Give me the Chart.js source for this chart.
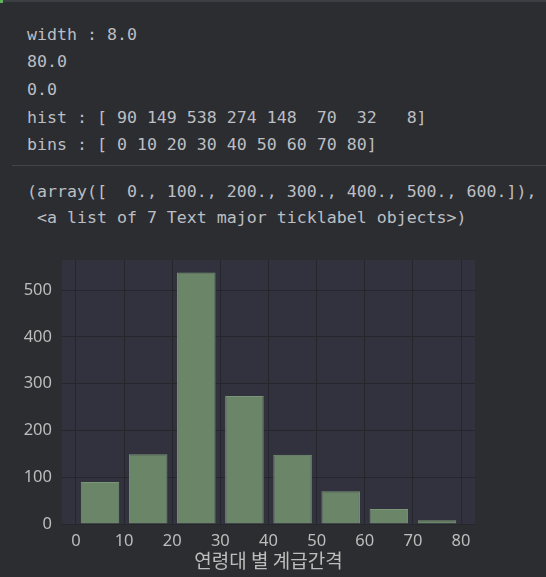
<!DOCTYPE html>
<html>
<head>
<meta charset="utf-8">
<script src="https://cdn.jsdelivr.net/npm/chart.js@4"></script>
<style>
  html, body { margin:0; padding:0; background:#2b2d30; width:546px; height:577px; overflow:hidden; }
  .topbar { position:absolute; left:0; top:0; width:546px; height:2px; background:#3c3e44; }
  .topmark { position:absolute; left:0; top:0; width:3px; height:3px; background:#5fb35a; }
  .ln { position:absolute; left:27px; font-family:"DejaVu Sans Mono", monospace; font-size:16.6px; line-height:20px; color:#bcbec4; white-space:pre; }
  .sep { position:absolute; left:12px; top:165px; width:534px; height:1px; background:#43454a; }
  #wrap { position:absolute; left:0; top:240px; width:546px; height:337px; }
</style>
</head>
<body>
<div class="topbar"></div><div class="topmark"></div>
<div id="out1"></div>
<div class="sep"></div>
<div id="out2"></div>
<div id="wrap"><canvas id="c" width="546" height="337"></canvas></div>
<script>
// ---- data ----
const widthValue = 8.0;
const maxValue = 80.0;
const minValue = 0.0;
const bins = [0, 10, 20, 30, 40, 50, 60, 70, 80];
const hist = [90, 149, 538, 274, 148, 70, 32, 8];
const yTicks = [0, 100, 200, 300, 400, 500, 600];
const xTicks = [0, 10, 20, 30, 40, 50, 60, 70, 80];
const xLabel = '연령대 별 계급간격';

// ---- printed output ----
function fmtArr(a, w) { return '[' + a.map(v => String(v).padStart(w)).join(' ') + ']'; }
const out1Lines = [
  'width : ' + widthValue.toFixed(1),
  maxValue.toFixed(1),
  minValue.toFixed(1),
  'hist : ' + fmtArr(hist, 3),
  'bins : ' + fmtArr(bins, 2)
];
const out2Lines = [
  '(array([' + yTicks.map(v => (v + '.').padStart(4)).join(', ') + ']),',
  ' <a list of ' + yTicks.length + ' Text major ticklabel objects>)'
];
const out1Tops = [25, 52, 80, 108, 135];
const out2Tops = [182, 208];
out1Lines.forEach((t, i) => { const d = document.createElement('div'); d.className = 'ln'; d.style.top = out1Tops[i] + 'px'; d.textContent = t; document.getElementById('out1').appendChild(d); });
out2Lines.forEach((t, i) => { const d = document.createElement('div'); d.className = 'ln'; d.style.top = out2Tops[i] + 'px'; d.textContent = t; document.getElementById('out2').appendChild(d); });

// ---- chart ----
const points = hist.map((v, i) => ({ x: bins[i] + (bins[i + 1] - bins[i]) / 2, y: v }));
const binStep = bins[1] - bins[0];

const plotBg = {
  id: 'plotBg',
  beforeDraw(chart) {
    const { ctx, chartArea: { left, top, width, height } } = chart;
    ctx.save();
    ctx.fillStyle = '#31323d';
    ctx.fillRect(left, top, width, height);
    ctx.restore();
  }
};

const tickColor = '#bdbdbd';
const gridColor = '#26272d';

new Chart(document.getElementById('c'), {
  type: 'bar',
  data: {
    datasets: [{
      data: points,
      backgroundColor: '#6b8569',
      borderColor: '#7a9677',
      borderWidth: 1,
      barPercentage: widthValue / binStep,
      categoryPercentage: 1.0
    }]
  },
  options: {
    responsive: false,
    animation: false,
    events: [],
    layout: { padding: { top: 17, right: 71, left: 0, bottom: 0 } },
    plugins: { legend: { display: false }, tooltip: { enabled: false } },
    scales: {
      x: {
        type: 'linear',
        min: -2.9,
        max: 82.9,
        offset: false,
        grid: { color: gridColor, drawTicks: false, offset: false },
        border: { display: false },
        ticks: { color: tickColor, font: { family: 'Noto Sans', size: 16.5 }, padding: 7, maxRotation: 0 },
        afterBuildTicks: s => { s.ticks = xTicks.map(v => ({ value: v })); },
        afterFit: s => { s.height = 53; },
        title: { display: true, text: xLabel, color: tickColor, font: { family: 'Noto Sans CJK KR', size: 19 }, padding: { top: 0, bottom: 5 } }
      },
      y: {
        min: 0,
        max: 564.9,
        grid: { color: gridColor, drawTicks: false },
        border: { display: false },
        ticks: { color: tickColor, font: { family: 'Noto Sans', size: 16.5 }, padding: 10 },
        afterBuildTicks: s => { s.ticks = yTicks.filter(v => v <= s.max).map(v => ({ value: v })); },
        afterFit: s => { s.width = 62; }
      }
    }
  },
  plugins: [plotBg]
});
</script>
</body>
</html>
